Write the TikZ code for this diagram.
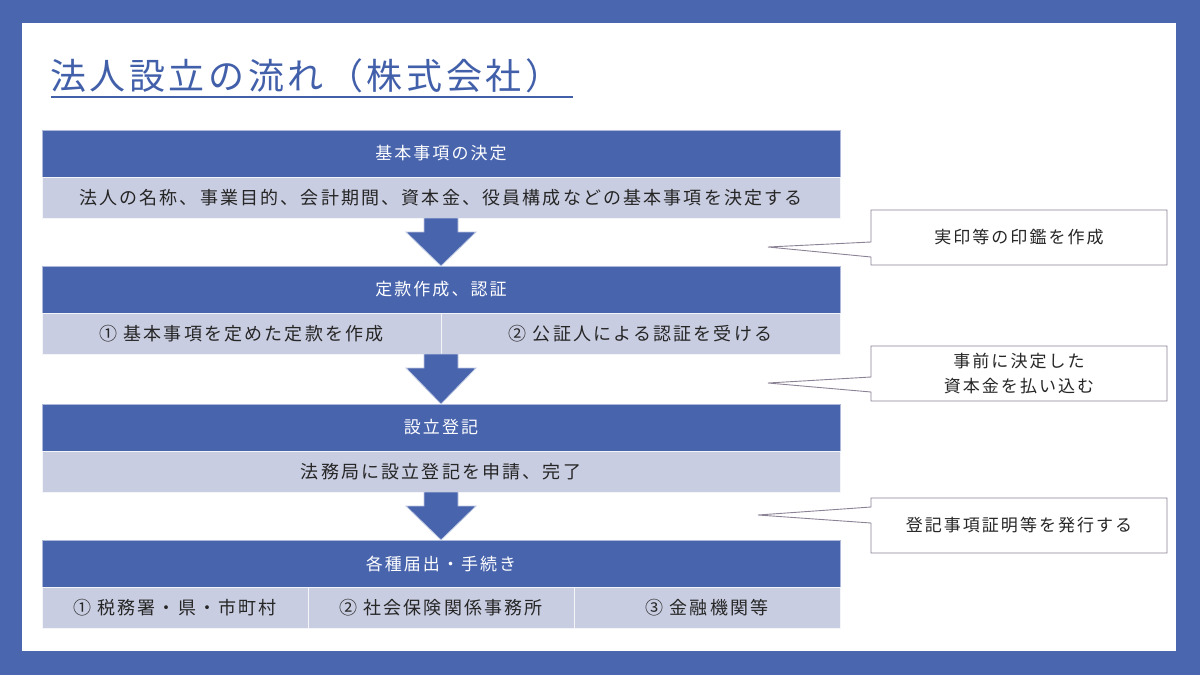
\documentclass[tikz,border=0pt]{standalone}
\usepackage{fontspec}
\setmainfont{Noto Sans CJK JP}[LetterSpace=12]
\newfontfamily\titlefont{Noto Sans CJK JP}[LetterSpace=10]
\usepackage{xcolor}
\usepackage{tikz}
\usetikzlibrary{positioning, calc}

\definecolor{frameblue}{RGB}{74,102,174}
\definecolor{headblue}{RGB}{72,100,173}
\definecolor{rowgray}{RGB}{201,205,225}
\definecolor{titleblue}{RGB}{66,96,170}
\definecolor{calloutgray}{RGB}{140,130,150}
\definecolor{bodytext}{RGB}{38,38,38}

\begin{document}
\begin{tikzpicture}[
    x=1pt, y=-1pt,
    head/.style={
        draw=white!55!headblue,
        fill=headblue,
        text=white,
        minimum width=798,
        minimum height=47,
        inner sep=0pt,
        outer sep=0pt,
        font=\fontsize{17}{20}\selectfont
    },
    cell/.style={
        draw=white!80!rowgray,
        fill=rowgray,
        text=bodytext,
        minimum height=41,
        inner sep=0pt,
        outer sep=0pt,
        font=\fontsize{18}{20}\selectfont
    },
    callout/.style={
        minimum width=296,
        minimum height=55,
        inner sep=0pt,
        outer sep=0pt,
        text=bodytext,
        align=center,
        font=\fontsize{17}{25}\selectfont
    },
    calloutline/.style={draw=calloutgray, fill=white, line width=0.9pt},
    bigarrow/.style={fill=headblue, draw=white!65!headblue, line width=0.8pt}
]

% frame and page
\fill[frameblue] (0,0) rectangle (1200,675);
\fill[white] (22,23) rectangle (1176,651);

% title
\node[anchor=base west, inner sep=0pt, text=titleblue, font=\titlefont\fontsize{36}{40}\selectfont] (title) at (50,89) {法人設立の流れ（株式会社）};
\draw[titleblue, line width=1.5pt] (51,97) -- (573,97);

% step 1
\node[head, anchor=north west] (h1) at (42,130) {基本事項の決定};
\node[cell, minimum width=798, below=0pt of h1] (r1) {法人の名称、事業目的、会計期間、資本金、役員構成などの基本事項を決定する};

% step 2
\node[head, anchor=north west] (h2) at (42,266) {定款作成、認証};
\node[cell, minimum width=399, anchor=north west] (r2a) at (h2.south west) {① 基本事項を定めた定款を作成};
\node[cell, minimum width=399, right=0pt of r2a] (r2b) {② 公証人による認証を受ける};

% step 3
\node[head, anchor=north west] (h3) at (42,404) {設立登記};
\node[cell, minimum width=798, below=0pt of h3] (r3) {法務局に設立登記を申請、完了};

% step 4
\node[head, anchor=north west] (h4) at (42,540) {各種届出・手続き};
\node[cell, minimum width=266, anchor=north west] (r4a) at (h4.south west) {① 税務署・県・市町村};
\node[cell, minimum width=266, right=0pt of r4a] (r4b) {② 社会保険関係事務所};
\node[cell, minimum width=266, right=0pt of r4b] (r4c) {③ 金融機関等};

% block arrows between the steps
\foreach \src/\dst in {r1.south/h2.north, r2a.south east/h3.north, r3.south/h4.north}{
    \draw[bigarrow] ($(\src)+(-17,0)$) -- ($(\src)+(-17,14)$) -- ($(\src)+(-35,14)$)
        -- (\dst) -- ($(\src)+(35,14)$) -- ($(\src)+(17,14)$) -- ($(\src)+(17,0)$) -- cycle;
}

% callouts
\coordinate (p1) at (768,247);
\coordinate (p2) at (768,383);
\coordinate (p3) at (758,515);

\node[callout, anchor=north west] (c1) at (871,210) {};
\draw[calloutline] (c1.north west) -- (c1.north east) -- (c1.south east) -- (c1.south west)
    -- ($(c1.south west)+(0,-8)$) -- (p1) -- ($(c1.south west)+(0,-23)$) -- cycle;
\node[callout] at (c1) {実印等の印鑑を作成};

\node[callout, anchor=north west] (c2) at (871,346) {};
\draw[calloutline] (c2.north west) -- (c2.north east) -- (c2.south east) -- (c2.south west)
    -- ($(c2.south west)+(0,-9)$) -- (p2) -- ($(c2.south west)+(0,-24)$) -- cycle;
\node[callout] at (c2) {事前に決定した\\資本金を払い込む};

\node[callout, anchor=north west] (c3) at (871,498) {};
\draw[calloutline] (c3.north west) -- ($(c3.north west)+(0,9)$) -- (p3) -- ($(c3.north west)+(0,25)$)
    -- (c3.south west) -- (c3.south east) -- (c3.north east) -- cycle;
\node[callout] at (c3) {登記事項証明等を発行する};

\end{tikzpicture}
\end{document}
